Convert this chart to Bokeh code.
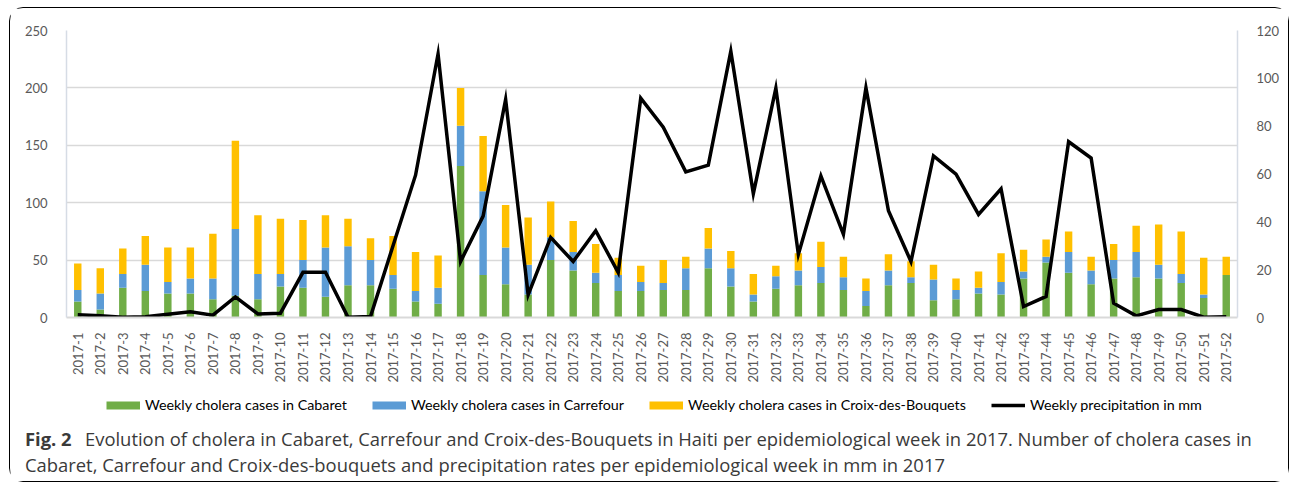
import math
from bokeh.plotting import figure
from bokeh.layouts import column
from bokeh.models import (FactorRange, Range1d, LinearAxis, Legend, LegendItem, Label,
                          SingleIntervalTicker, ColumnDataSource)
from bokeh.embed import file_html
from bokeh.resources import INLINE

weeks = [f"2017-{i}" for i in range(1, 53)]

cabaret = [14, 7, 26, 23, 21, 21, 16, 19, 16, 27, 26, 18, 28, 28, 25, 14, 12, 132, 37, 29,
           20, 50, 41, 30, 23, 23, 24, 24, 43, 27, 14, 25, 28, 30, 24, 10, 28, 30, 15, 16,
           21, 20, 34, 48, 39, 29, 34, 35, 34, 30, 17, 37]
carrefour = [10, 14, 12, 23, 10, 13, 18, 58, 22, 11, 24, 43, 34, 22, 12, 9, 14, 35, 73, 32,
             26, 20, 16, 9, 14, 8, 6, 19, 17, 16, 6, 11, 13, 14, 11, 13, 13, 5, 18, 8,
             5, 11, 6, 5, 18, 12, 16, 22, 12, 8, 3, 0]
croix = [23, 22, 22, 25, 30, 27, 39, 77, 51, 48, 35, 28, 24, 19, 34, 34, 28, 33, 48, 37,
         41, 31, 27, 25, 15, 14, 20, 10, 18, 15, 18, 9, 15, 22, 18, 11, 14, 14, 13, 10,
         14, 25, 19, 15, 18, 12, 14, 23, 35, 37, 32, 16]
precip = [1.1, 0.7, 0.1, 0.3, 1.4, 2.4, 1.0, 8.6, 1.5, 1.8, 18.9, 18.9, 0.1, 0.4, 30.0, 59.5,
          110.2, 23.4, 42.4, 91.2, 9.5, 33.5, 23.4, 36.3, 18.8, 91.7, 79.6, 60.9, 63.7, 111.3,
          51.8, 95.9, 26.4, 59.2, 34.8, 96.0, 44.6, 23.4, 67.6, 59.9, 43.1, 53.8, 4.6, 8.8,
          73.5, 66.7, 6.0, 0.7, 3.3, 3.3, 0.1, 0.3]

series_labels = ["Weekly cholera cases in Cabaret", "Weekly cholera cases in Carrefour",
                 "Weekly cholera cases in Croix-des-Bouquets", "Weekly precipitation in mm"]
caption_bold = "Fig. 2"
caption_line1 = ("Evolution of cholera in Cabaret, Carrefour and Croix-des-Bouquets in Haiti per "
                 "epidemiological week in 2017. Number of cholera cases in")
caption_line2 = ("Cabaret, Carrefour and Croix-des-bouquets and precipitation rates per "
                 "epidemiological week in mm in 2017")

GREEN, BLUE, YELLOW = "#70ad47", "#5b9bd5", "#ffc000"
FONT = "Lato"
TICK_COLOR = "#595959"
W = 1278

src = ColumnDataSource(dict(week=weeks, cabaret=cabaret, carrefour=carrefour,
                            croix=croix, precip=precip))

# ---------------- chart ----------------
p = figure(width=W, height=377, x_range=FactorRange(*weeks), y_range=Range1d(0, 250),
           output_backend="svg", toolbar_location=None,
           min_border_left=56, min_border_right=51, min_border_top=22, min_border_bottom=67)
p.outline_line_color = None
p.frame_align = False

p.vbar_stack(["cabaret", "carrefour", "croix"], x="week", width=0.33,
             fill_color=[GREEN, BLUE, YELLOW], line_color=None, source=src)

p.extra_y_ranges = {"precip": Range1d(0, 120)}
p.line("week", "precip", source=src, y_range_name="precip",
       line_color="black", line_width=3.5, line_join="miter")

p.yaxis.ticker = SingleIntervalTicker(interval=50)
right = LinearAxis(y_range_name="precip", ticker=SingleIntervalTicker(interval=20))
p.add_layout(right, "right")

for ax in p.yaxis:
    ax.major_tick_line_color = None
    ax.minor_tick_line_color = None
    ax.axis_line_color = "#d6dce5"
    ax.axis_line_width = 1.5
    ax.major_label_text_font = FONT
    ax.major_label_text_font_size = "13px"
    ax.major_label_text_color = TICK_COLOR
    ax.major_label_standoff = 13

xa = p.xaxis[0]
xa.major_label_orientation = math.pi / 2
xa.major_tick_line_color = None
xa.axis_line_color = "#d9d9d9"
xa.axis_line_width = 2
xa.major_label_text_font = FONT
xa.major_label_text_font_size = "13px"
xa.major_label_text_color = TICK_COLOR
xa.major_label_standoff = 9

p.ygrid.grid_line_color = "#d9d9d9"
p.ygrid.grid_line_width = 1.5
p.xgrid.grid_line_color = None

# ---------------- legend + caption panel ----------------
q = figure(width=W, height=96, x_range=Range1d(10.5, 10.5 + W), y_range=Range1d(481.5, 385.5),
           output_backend="svg", toolbar_location=None,
           x_axis_location=None, y_axis_location=None,
           min_border_left=0, min_border_right=0, min_border_top=0, min_border_bottom=0)
q.outline_line_color = None
q.grid.grid_line_color = None
q.frame_align = False

nan = float("nan")
sw_g = q.line(x=[0], y=[nan], line_color=GREEN, line_width=8, line_cap="butt")
sw_b = q.line(x=[0], y=[nan], line_color=BLUE, line_width=8, line_cap="butt")
sw_y = q.line(x=[0], y=[nan], line_color=YELLOW, line_width=8, line_cap="butt")
sw_k = q.line(x=[0], y=[nan], line_color="black", line_width=3.5, line_cap="butt")
legend = Legend(items=[LegendItem(label=series_labels[0], renderers=[sw_g]),
                       LegendItem(label=series_labels[1], renderers=[sw_b]),
                       LegendItem(label=series_labels[2], renderers=[sw_y]),
                       LegendItem(label=series_labels[3], renderers=[sw_k])],
                orientation="horizontal", location=(96, 68),
                glyph_width=34, glyph_height=16, label_height=16, label_standoff=5,
                spacing=25, padding=0, margin=0, border_line_color=None,
                background_fill_alpha=0, label_text_font=FONT,
                label_text_font_size="14.3px", label_text_color="black")
q.add_layout(legend, "center")

cap_style = dict(text_font="Open Sans", text_font_size="18.4px", text_color="#3a3a3a",
                 text_baseline="middle")
q.add_layout(Label(x=25, y=438, text=caption_bold, text_font_style="bold", **cap_style))
q.add_layout(Label(x=85, y=438, text=caption_line1, **cap_style))
q.add_layout(Label(x=25, y=464, text=caption_line2, **cap_style))

layout = column(p, q, margin=(7, 0, 0, 9),
                styles={"border": "1.5px solid black", "border-radius": "14px"})

open("out.html", "w").write(file_html(layout, INLINE))
